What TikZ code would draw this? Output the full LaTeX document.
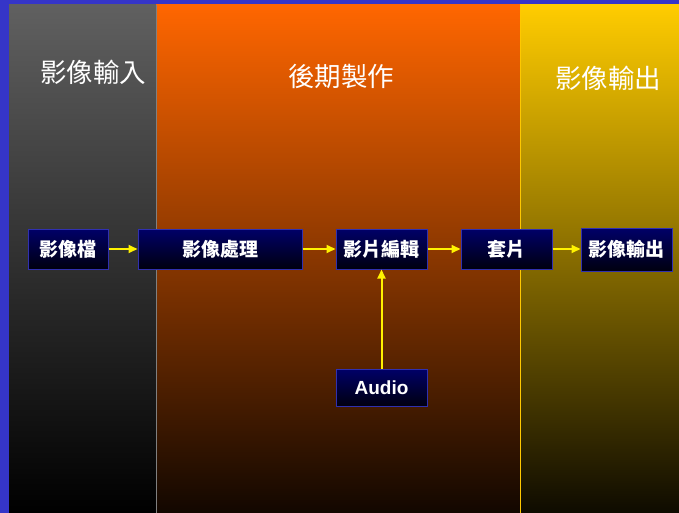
\documentclass[tikz,border=0pt]{standalone}
\usepackage{fontspec}
\newfontfamily\cjk{Noto Sans CJK TC}
\setsansfont{Liberation Sans}
\usetikzlibrary{arrows.meta}
\definecolor{bgblue}{HTML}{3535C8}
\definecolor{boxtop}{HTML}{000068}
\definecolor{boxbot}{HTML}{000010}
\definecolor{boxedge}{HTML}{3030B0}
\definecolor{graytop}{HTML}{606060}
\definecolor{graybot}{HTML}{000000}
\definecolor{orangetop}{HTML}{FF6600}
\definecolor{orangebot}{HTML}{120700}
\definecolor{yeltop}{HTML}{FFCC00}
\definecolor{yelbot}{HTML}{0E0B00}
\definecolor{yelline}{HTML}{FFC800}
\tikzset{
  stepbox/.style={draw=boxedge, line width=1pt, top color=boxtop, bottom color=boxbot,
    text=white, font=\cjk\bfseries\fontsize{19}{19}\selectfont, inner sep=0pt, anchor=center},
  head/.style={text=white, font=\cjk\fontsize{26.5}{26.5}\selectfont},
  flow/.style={draw=yellow, line width=2pt, -{Triangle[length=9pt,width=8pt]}}
}
\begin{document}
\begin{tikzpicture}[x=1pt,y=-1pt]
\useasboundingbox (0,0) rectangle (679,513);
\fill[bgblue] (0,0) rectangle (679,513);
\shade[top color=graytop, bottom color=graybot] (9,5) rectangle (156,513);
\shade[top color=orangetop, bottom color=orangebot] (156,5) rectangle (520,513);
\shade[top color=yeltop, bottom color=yelbot] (520,5) rectangle (679,513);
\draw[gray, line width=1pt] (156,5) -- (156,513);
\draw[yelline, line width=1pt] (520.5,5) -- (520.5,513);

\node[head] (h1) at (93,72) {影像輸入};
\node[head] (h2) at (341,76) {後期製作};
\node[head] (h3) at (608,78) {影像輸出};

\node[stepbox, minimum width=80pt, minimum height=40pt] (a) at (68,249) {影像檔};
\node[stepbox, minimum width=164pt, minimum height=40pt] (b) at (220,249) {影像處理};
\node[stepbox, minimum width=91pt, minimum height=40pt] (c) at (381.5,249) {影片編輯};
\node[stepbox, minimum width=91pt, minimum height=40pt] (d) at (506.5,249) {套片};
\node[stepbox, minimum width=91pt, minimum height=43pt] (e) at (626.5,249.5) {影像輸出};
\node[stepbox, minimum width=91pt, minimum height=37pt, font=\sffamily\bfseries\fontsize{19}{19}\selectfont] (f) at (381.5,387.5) {Audio};

\draw[flow] (a) -- (b);
\draw[flow] (b) -- (c);
\draw[flow] (c) -- (d);
\draw[flow] (d) -- (e.west |- d);
\draw[flow] (f) -- (c);
\end{tikzpicture}
\end{document}
